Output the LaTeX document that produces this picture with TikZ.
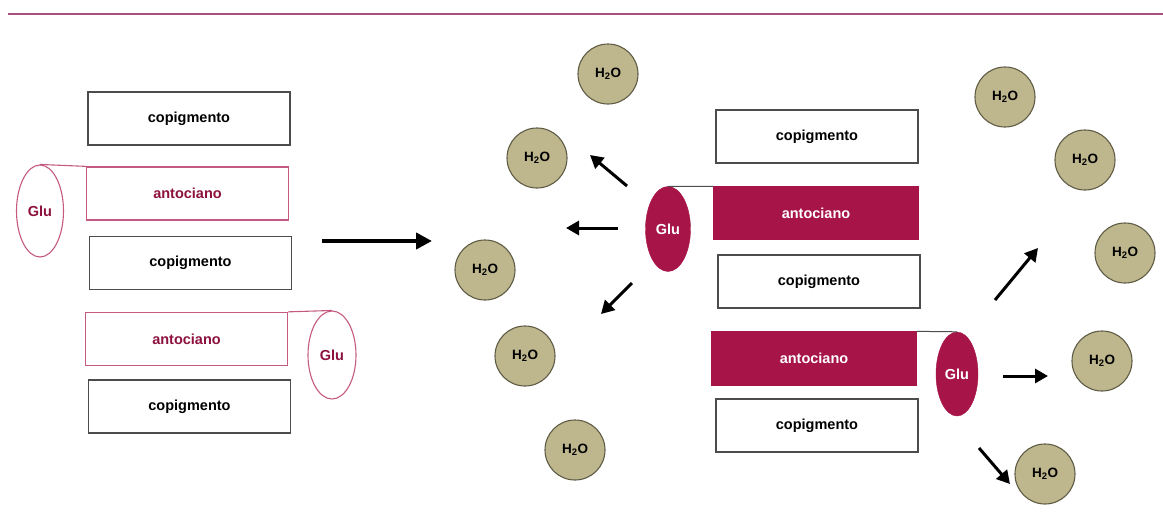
\documentclass[tikz,border=0pt]{standalone}
\usepackage{fontspec}
\setmainfont{Liberation Sans}
\usepackage{tikz}
\usetikzlibrary{shapes,arrows,arrows.meta,positioning}

\definecolor{wine}{RGB}{166,20,72}
\definecolor{rosa}{RGB}{196,90,130}
\definecolor{oliva}{RGB}{190,182,140}
\definecolor{olivadark}{RGB}{95,92,70}
\definecolor{topline}{RGB}{168,80,130}

\begin{document}
\begin{tikzpicture}[x=1pt,y=-1pt]
			\tikzstyle{Box} 	= [rectangle, draw=black!70, line width=1.3pt, fill=white, minimum width=202pt, minimum height=53pt, inner sep=0pt, font=\fontsize{14.5}{16}\selectfont\bfseries]
			\tikzstyle{Anto}	= [Box, draw=rosa, text=wine!85!black]
			\tikzstyle{AntoF}	= [Box, draw=wine, fill=wine, text=white]
			\tikzstyle{Glu}		= [ellipse, draw=rosa, line width=1.1pt, inner sep=0pt, text=wine!85!black, font=\fontsize{14.5}{16}\selectfont\bfseries]
			\tikzstyle{GluF}	= [ellipse, draw=wine, fill=wine, inner sep=0pt, text=white, font=\fontsize{14.5}{16}\selectfont\bfseries]
			\tikzstyle{Water}	= [circle, draw=olivadark, line width=1.1pt, fill=oliva, minimum size=60pt, inner sep=0pt, font=\fontsize{13.5}{15}\selectfont\bfseries]
			\tikzstyle{Push}	= [-{Triangle[length=13pt,width=14pt]}, line width=3pt]
			
			\useasboundingbox (0,0) rectangle (1163,528);
			\draw [topline, line width=2.4pt] (8,14) -- (1163,14);
			
			% left: pigment stack with glucose
			\node (cop1) at (189, 118.5) [Box] {copigmento};
			\node (anto1) at (187.5, 193.5) [Anto] {antociano};
			\node (glu1) at (40, 211) [Glu, minimum width=47pt, minimum height=92pt] {Glu};
			\node (cop2) at (190.5, 263) [Box] {copigmento};
			\node (anto2) at (186.5, 339) [Anto] {antociano};
			\node (glu2) at (332, 355) [Glu, minimum width=48pt, minimum height=88pt] {Glu};
			\node (cop3) at (189.5, 406.5) [Box] {copigmento};
			
			\draw [rosa, line width=1.1pt] (glu1.north) -- (anto1.north west);
			\draw [rosa, line width=1.1pt] (anto2.north east) -- (glu2.north);
			
			\coordinate (go1) at (322, 241);
			\coordinate (go2) at (432, 241);
			\draw [-{Triangle[length=16pt,width=16pt]}, line width=4pt] (go1) -- (go2);
			
			% right: pigment stack in water
			\node (copR1) at (817, 136.5) [Box] {copigmento};
			\node (antoR1) at (816, 213) [AntoF, minimum width=204pt, minimum height=52pt] {antociano};
			\node (gluR1) at (668, 229) [GluF, minimum width=45pt, minimum height=85pt] {Glu};
			\node (copR2) at (819, 281.5) [Box] {copigmento};
			\node (antoR2) at (814, 358.5) [AntoF, minimum width=204pt] {antociano};
			\node (gluR2) at (957, 374) [GluF, minimum width=42pt, minimum height=84pt] {Glu};
			\node (copR3) at (817, 425.5) [Box] {copigmento};
			
			\draw [black!70, line width=1pt] (gluR1.north) -- (antoR1.north west);
			\draw [black!70, line width=1pt] (antoR2.north east) -- (gluR2.north);
			
			\node (w1) at (608, 74) [Water] {H\textsubscript{2}O};
			\node (w2) at (537, 158) [Water] {H\textsubscript{2}O};
			\node (w3) at (485, 270) [Water] {H\textsubscript{2}O};
			\node (w4) at (525, 356) [Water] {H\textsubscript{2}O};
			\node (w5) at (575, 450) [Water] {H\textsubscript{2}O};
			\node (w6) at (1005, 97) [Water] {H\textsubscript{2}O};
			\node (w7) at (1085, 160) [Water] {H\textsubscript{2}O};
			\node (w8) at (1125, 253) [Water] {H\textsubscript{2}O};
			\node (w9) at (1102, 361) [Water] {H\textsubscript{2}O};
			\node (w10) at (1045, 474) [Water] {H\textsubscript{2}O};
			
			\coordinate (a1) at (627, 186);	\coordinate (b1) at (590, 155);
			\coordinate (a2) at (618, 228);	\coordinate (b2) at (566, 228);
			\coordinate (a3) at (632, 283);	\coordinate (b3) at (601, 314);
			\coordinate (a4) at (995, 300);	\coordinate (b4) at (1038, 248);
			\coordinate (a5) at (1003, 376);	\coordinate (b5) at (1048, 376);
			\coordinate (a6) at (979, 448);	\coordinate (b6) at (1010, 484);
			\foreach \i in {1,...,6}
				\draw [Push] (a\i) -- (b\i);
		\end{tikzpicture}
\end{document}
